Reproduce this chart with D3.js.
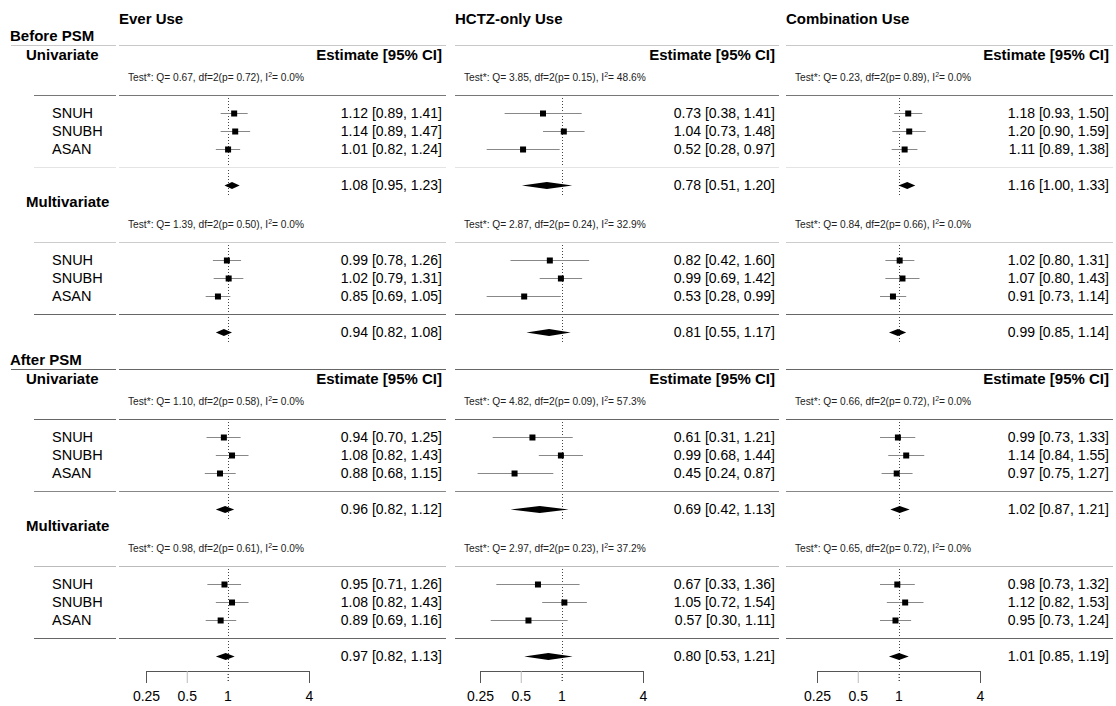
<!DOCTYPE html>
<html>
<head>
<meta charset="utf-8">
<script src="https://cdn.jsdelivr.net/npm/d3@7"></script>
<style>
  body { margin: 0; background: #fff; }
  text { font-family: "Liberation Sans", Arial, sans-serif; fill: #000; }
  .bold { font-weight: bold; font-size: 15px; }
  .test { font-size: 10.2px; fill: #222; }
</style>
</head>
<body>
<div id="chart"></div>
<script>

//data
var studies = ["SNUH", "SNUBH", "ASAN"];
var panelTitles = ["Ever Use", "HCTZ-only Use", "Combination Use"];
var sections = ["Before PSM", "After PSM"];
var models = ["Univariate", "Multivariate", "Univariate", "Multivariate"];
var tickValues = [0.25, 0.5, 1, 4];

// each block: SNUH, SNUBH, ASAN, pooled -> [estimate, lower, upper]
var everUse = [
  [[1.12, 0.89, 1.41], [1.14, 0.89, 1.47], [1.01, 0.82, 1.24], [1.08, 0.95, 1.23]],
  [[0.99, 0.78, 1.26], [1.02, 0.79, 1.31], [0.85, 0.69, 1.05], [0.94, 0.82, 1.08]],
  [[0.94, 0.70, 1.25], [1.08, 0.82, 1.43], [0.88, 0.68, 1.15], [0.96, 0.82, 1.12]],
  [[0.95, 0.71, 1.26], [1.08, 0.82, 1.43], [0.89, 0.69, 1.16], [0.97, 0.82, 1.13]]
];
var hctzUse = [
  [[0.73, 0.38, 1.41], [1.04, 0.73, 1.48], [0.52, 0.28, 0.97], [0.78, 0.51, 1.20]],
  [[0.82, 0.42, 1.60], [0.99, 0.69, 1.42], [0.53, 0.28, 0.99], [0.81, 0.55, 1.17]],
  [[0.61, 0.31, 1.21], [0.99, 0.68, 1.44], [0.45, 0.24, 0.87], [0.69, 0.42, 1.13]],
  [[0.67, 0.33, 1.36], [1.05, 0.72, 1.54], [0.57, 0.30, 1.11], [0.80, 0.53, 1.21]]
];
var comboUse = [
  [[1.18, 0.93, 1.50], [1.20, 0.90, 1.59], [1.11, 0.89, 1.38], [1.16, 1.00, 1.33]],
  [[1.02, 0.80, 1.31], [1.07, 0.80, 1.43], [0.91, 0.73, 1.14], [0.99, 0.85, 1.14]],
  [[0.99, 0.73, 1.33], [1.14, 0.84, 1.55], [0.97, 0.75, 1.27], [1.02, 0.87, 1.21]],
  [[0.98, 0.73, 1.32], [1.12, 0.82, 1.53], [0.95, 0.73, 1.24], [1.01, 0.85, 1.19]]
];

// heterogeneity: [Q, p, I2]
var everTest  = [[0.67, 0.72, 0.0], [1.39, 0.50, 0.0], [1.10, 0.58, 0.0], [0.98, 0.61, 0.0]];
var hctzTest  = [[3.85, 0.15, 48.6], [2.87, 0.24, 32.9], [4.82, 0.09, 57.3], [2.97, 0.23, 37.2]];
var comboTest = [[0.23, 0.89, 0.0], [0.84, 0.66, 0.0], [0.66, 0.72, 0.0], [0.65, 0.72, 0.0]];

var panelData = [everUse, hctzUse, comboUse];
var panelTests = [everTest, hctzTest, comboTest];


//layout
var width = 1116, height = 706;
var panelLeft  = [119, 455, 786];
var panelRight = [446, 779, 1113];
var axisRange  = [[146, 309], [480, 643], [817, 980]];
var blockTop   = [55, 202, 379, 526];   // header line of each block
var sectionY   = [36, 360];
var axisY = 671;

// offsets inside a block
var off = {test: 22, topLine: 40, row0: 58, rowStep: 18, midLine: 112, pooled: 130};

// gray of the two rules inside each block
var topLineColor = ["#777", "#ccc", "#666", "#bbb"];
var midLineColor = ["#e4e4e4", "#666", "#888", "#666"];

var f2 = d3.format(".2f");
var f1 = d3.format(".1f");

var svg = d3.select("#chart")
  .append("svg")
  .attr("width", width)
  .attr("height", height);

function hline(sel, x1, x2, y, color) {
  sel.append("line")
    .attr("x1", x1).attr("x2", x2)
    .attr("y1", y + 0.5).attr("y2", y + 0.5)
    .style("stroke", color);
}


//section labels + rules
sections.forEach(function(s, i) {
  svg.append("text")
    .attr("class", "bold")
    .attr("x", 10)
    .attr("y", sectionY[i])
    .attr("dy", "0.35em")
    .text(s);

  var ly = sectionY[i] + 9;
  var c = i == 0 ? "#c8c8c8" : "#666";
  hline(svg, 11, 116, ly, c);
  panelLeft.forEach(function(pl, p) {
    hline(svg, pl, panelRight[p], ly, c);
  });
});


//left label column
models.forEach(function(m, b) {
  var top = blockTop[b];

  svg.append("text")
    .attr("class", "bold")
    .attr("x", 26)
    .attr("y", top)
    .attr("dy", "0.35em")
    .text(m);

  hline(svg, 34, 116, top + off.topLine, topLineColor[b]);
  hline(svg, 34, 116, top + off.midLine, midLineColor[b]);

  studies.forEach(function(s, i) {
    svg.append("text")
      .attr("x", 52)
      .attr("y", top + off.row0 + i * off.rowStep)
      .attr("dy", "0.35em")
      .style("font-size", "14.5px")
      .text(s);
  });
});


//panels
panelTitles.forEach(function(title, p) {

  var x = d3.scaleLog()
    .base(2)
    .domain([0.25, 4])
    .range(axisRange[p]);

  var g = svg.append("g");

  //title
  g.append("text")
    .attr("class", "bold")
    .attr("x", panelLeft[p])
    .attr("y", 19)
    .attr("dy", "0.35em")
    .text(title);

  panelData[p].forEach(function(block, b) {
    var top = blockTop[b];
    var test = panelTests[p][b];
    var estX = panelRight[p] - 4;

    //reference line
    var refEnd = b == 3 ? axisY + 12 : top + off.pooled + 10;
    g.append("line")
      .attr("x1", Math.round(x(1)) + 0.5).attr("x2", Math.round(x(1)) + 0.5)
      .attr("y1", top + off.topLine).attr("y2", refEnd)
      .style("stroke", "#444")
      .style("stroke-dasharray", "1,2");

    //header (univariate blocks only)
    if (models[b] == "Univariate") {
      g.append("text")
        .attr("class", "bold")
        .attr("x", estX)
        .attr("y", top)
        .attr("dy", "0.35em")
        .style("text-anchor", "end")
        .text("Estimate [95% CI]");
    }

    //heterogeneity test
    var t = g.append("text")
      .attr("class", "test")
      .attr("x", panelLeft[p] + 9)
      .attr("y", top + off.test)
      .attr("dy", "0.35em");
    t.append("tspan").text("Test*: Q= " + f2(test[0]) + ", df=2(p= " + f2(test[1]) + "), I");
    t.append("tspan").attr("dy", "-4").style("font-size", "7px").text("2");
    t.append("tspan").attr("dy", "4").text("= " + f1(test[2]) + "%");

    //rules
    hline(g, panelLeft[p], panelRight[p], top + off.topLine, topLineColor[b]);
    hline(g, panelLeft[p], panelRight[p], top + off.midLine, midLineColor[b]);

    //study rows
    block.slice(0, 3).forEach(function(d, i) {
      var y = top + off.row0 + i * off.rowStep;
      g.append("line")
        .attr("x1", x(d[1])).attr("x2", x(d[2]))
        .attr("y1", y + 0.5).attr("y2", y + 0.5)
        .style("stroke", "#888");
      g.append("rect")
        .attr("x", x(d[0]) - 3)
        .attr("y", y - 2.5)
        .attr("width", 6)
        .attr("height", 6)
        .style("fill", "#000");
      g.append("text")
        .attr("x", estX)
        .attr("y", y)
        .attr("dy", "0.35em")
        .style("font-size", "14px")
        .style("text-anchor", "end")
        .text(f2(d[0]) + " [" + f2(d[1]) + ", " + f2(d[2]) + "]");
    });

    //pooled diamond
    var pd = block[3];
    var py = top + off.pooled + 0.5;
    g.append("polygon")
      .attr("points", [
        [x(pd[1]), py], [x(pd[0]), py - 3.5],
        [x(pd[2]), py], [x(pd[0]), py + 3.5]
      ].map(function(q) { return q.join(","); }).join(" "))
      .style("fill", "#000");
    g.append("text")
      .attr("x", estX)
      .attr("y", top + off.pooled)
      .attr("dy", "0.35em")
      .style("font-size", "14px")
      .style("text-anchor", "end")
      .text(f2(pd[0]) + " [" + f2(pd[1]) + ", " + f2(pd[2]) + "]");
  });

  //x axis
  var axis = g.append("g")
    .attr("transform", "translate(0," + axisY + ")")
    .call(d3.axisBottom(x)
      .tickValues(tickValues)
      .tickFormat(function(d) { return String(d); })
      .tickSizeInner(12)
      .tickSizeOuter(0)
      .tickPadding(8));

  axis.select(".domain").style("stroke", "#555");
  axis.selectAll(".tick line")
    .style("stroke", function(d) { return d == 0.5 ? "#bbb" : "#555"; })
    .style("stroke-dasharray", function(d) { return d == 1 ? "1,2" : null; });
  axis.selectAll(".tick text")
    .style("font-family", "'Liberation Sans', Arial, sans-serif")
    .style("font-size", "14px")
    .style("fill", "#000");
});

</script>
</body>
</html>
